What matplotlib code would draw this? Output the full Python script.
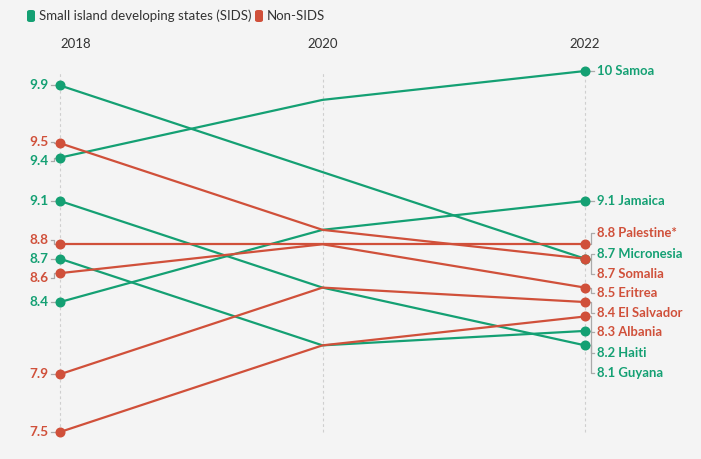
import matplotlib
matplotlib.use("Agg")
import matplotlib.pyplot as plt
from matplotlib.patches import FancyBboxPatch

# ---- data ----
years = [2018, 2020, 2022]
countries = ["Samoa", "Jamaica", "Micronesia", "Guyana", "Haiti",
             "Palestine*", "Somalia", "Eritrea", "El Salvador", "Albania"]
groups = ["SIDS", "SIDS", "SIDS", "SIDS", "SIDS",
          "Non-SIDS", "Non-SIDS", "Non-SIDS", "Non-SIDS", "Non-SIDS"]
values_2018 = [9.4, 8.4, 9.9, 9.1, 8.7, 8.8, 9.5, 8.6, 7.9, 7.5]
values_2020 = [9.8, 8.9, 9.3, 8.5, 8.1, 8.8, 8.9, 8.8, 8.5, 8.1]
values_2022 = [10.0, 9.1, 8.7, 8.1, 8.2, 8.8, 8.7, 8.5, 8.4, 8.3]
year_labels = ["2018", "2020", "2022"]
legend_labels = ["Small island developing states (SIDS)", "Non-SIDS"]

# label layout (de-overlapped text positions, in value units)
left_label_y = [9.377, 8.4, 9.9, 9.1, 8.698, 8.83, 9.505, 8.566, 7.9, 7.5]
right_label_y = [10.0, 9.1, 8.733, 7.909, 8.047, 8.875, 8.594, 8.463, 8.324, 8.192]

# ---- style ----
BG = "#f4f4f4"
COLORS = {"SIDS": "#14a073", "Non-SIDS": "#d0503a"}
FONT = ["Lato", "DejaVu Sans"]
plt.rcParams["font.family"] = FONT

W, H = 701, 459
fig = plt.figure(figsize=(W / 100, H / 100), dpi=100, facecolor=BG)
ax = fig.add_axes([0, 0, 1, 1])
ax.set_facecolor(BG)
ax.axis("off")

# pixel mapping: 2018 -> x=60, 2022 -> x=585 ; 10 -> y=71, 7.5 -> y=432
xpp = (2022 - 2018) / (585 - 60)  # years per pixel
ypp = (10 - 7.5) / (432 - 71)      # value per pixel
ax.set_xlim(2018 - 60 * xpp, 2018 + (W - 60) * xpp)
ax.set_ylim(7.5 - (H - 432) * ypp, 10 + 71 * ypp)

# dashed year guides
for yr in years:
    ax.plot([yr, yr], [7.5, 10.0], color="#cfcfcf", lw=0.8,
            dashes=(2.5, 2.5), zorder=1)

def fmt(v):
    return "10" if v == 10 else f"{v:.1f}"

order = [i for i, g in enumerate(groups) if g == "SIDS"] + \
        [i for i, g in enumerate(groups) if g != "SIDS"]

for i in order:
    c = COLORS[groups[i]]
    vals = [values_2018[i], values_2020[i], values_2022[i]]
    ax.plot(years, vals, color=c, lw=1.6, zorder=3, solid_capstyle="round")
    ax.plot([years[0], years[-1]], [vals[0], vals[-1]], "o", color=c,
            ms=6.2, mec=c, zorder=4)

# connectors + labels
for i in range(len(countries)):
    c = COLORS[groups[i]]
    # right
    v = values_2022[i]
    ly = right_label_y[i]
    x0 = 2022
    ax.plot([x0 + 4 * xpp, x0 + 6 * xpp, x0 + 6 * xpp, x0 + 9 * xpp],
            [v, v, ly, ly], color="#aaaaaa", lw=0.9, zorder=2)
    ax.text(x0 + 12 * xpp, ly, f"{fmt(v)} {countries[i]}", color=c,
            fontsize=9.4, fontweight="bold", va="center", ha="left")
    # left
    v = values_2018[i]
    ly = left_label_y[i]
    x0 = 2018
    ax.plot([x0 - 4 * xpp, x0 - 6 * xpp, x0 - 6 * xpp, x0 - 9 * xpp],
            [v, v, ly, ly], color="#aaaaaa", lw=0.9, zorder=2)
    ax.text(x0 - 11 * xpp, ly, fmt(v), color=c,
            fontsize=9.8, fontweight="bold", va="center", ha="right")

# year labels
ytop = 10 + (71 - 44) * ypp
ax.text(years[0], ytop, year_labels[0], ha="left", va="center",
        fontsize=9.5, color="#333333")
for yr, lab in zip(years[1:], year_labels[1:]):
    ax.text(yr, ytop, lab, ha="center", va="center", fontsize=9.5,
            color="#333333")

# legend (figure pixel coords)
def add_legend_item(x_px, label, color):
    rect = FancyBboxPatch((x_px / W, 1 - 22 / H), 8 / W, 12 / H,
                          boxstyle="round,pad=0,rounding_size=0.004",
                          transform=fig.transFigure, facecolor=color,
                          edgecolor="none")
    fig.patches.append(rect)
    fig.text((x_px + 12) / W, 1 - 16 / H, label, ha="left", va="center",
             fontsize=9.5, color="#333333")

add_legend_item(27, legend_labels[0], COLORS["SIDS"])
add_legend_item(255, legend_labels[1], COLORS["Non-SIDS"])

fig.savefig("out.png", dpi=100, facecolor=BG)
